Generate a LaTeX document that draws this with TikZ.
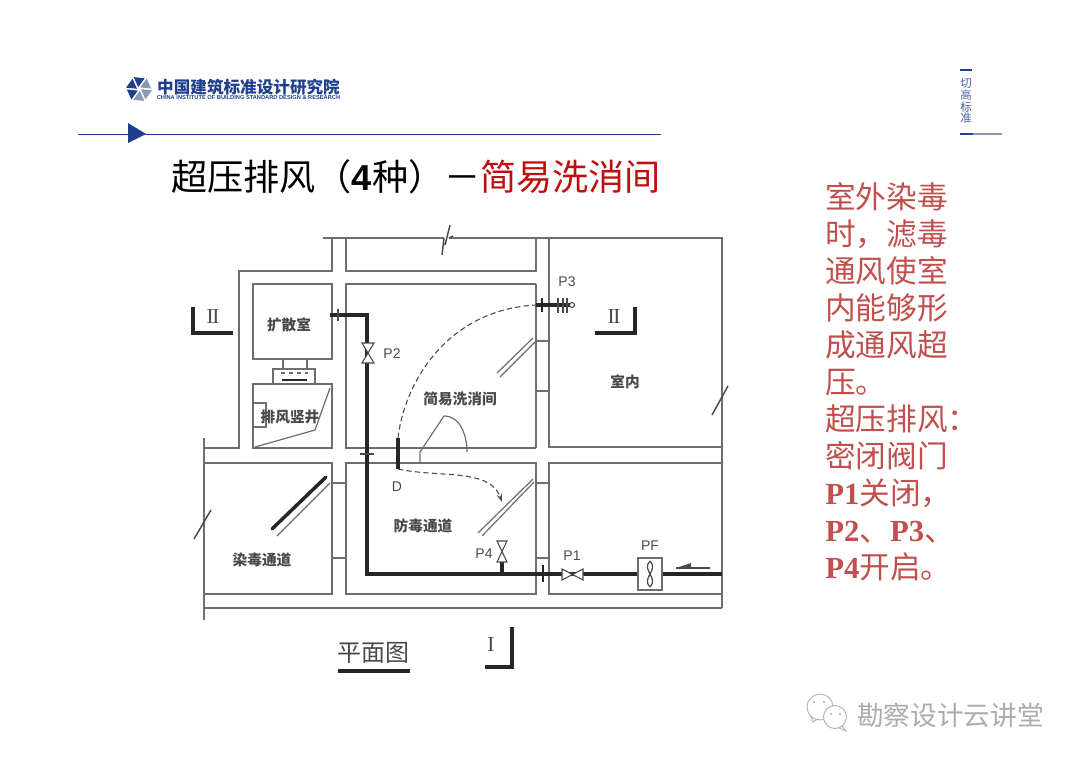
\documentclass[tikz,border=0pt]{standalone}
\usepackage{fontspec}
\setmainfont{Liberation Sans}
\newfontfamily\cjk{Noto Sans CJK SC}
\newfontfamily\tms{Liberation Serif}
\usetikzlibrary{arrows.meta,calc,positioning}
\definecolor{navy}{HTML}{1F3F8C}
\definecolor{logogray}{HTML}{8C97B4}
\definecolor{wallgray}{HTML}{6E6E6E}
\definecolor{inkgray}{HTML}{4A4A4A}
\definecolor{titlered}{HTML}{C00D0D}
\definecolor{notered}{HTML}{C0504D}
\tikzset{
	wall/.style={draw=wallgray, line width=0.9pt},
	pipe/.style={draw=black!85, line width=2.3pt},
	thickbar/.style={draw=black!85, line width=2.6pt},
	flow/.style={draw=inkgray, line width=0.8pt, dashed, dash pattern=on 4pt off 2.4pt},
	valve/.style={draw=inkgray, line width=0.8pt, fill=white},
	plan/.style={inner sep=0pt, text=inkgray, font=\cjk\bfseries\fontsize{11}{11}\selectfont},
	tag/.style={inner sep=0pt, text=inkgray, font=\fontsize{10.5}{10.5}\selectfont},
	secmark/.style={inner sep=0pt, text=inkgray, font=\tms\fontsize{16}{16}\selectfont}
}
\begin{document}
\begin{tikzpicture}[x=0.75pt, y=-0.75pt]
	\useasboundingbox (0,0) rectangle (1080,763);
	\fill[white] (0,0) rectangle (1080,763);

	% header
	\foreach \a/\c in {90/logogray,150/navy,210/navy,270/navy,330/logogray,30/logogray}
		\fill[\c] (139,89) ++(\a-24:2) -- ++(\a-24:11) -- ++(\a+96:11) -- cycle;
	\node[inner sep=0pt, text=navy, font=\cjk\bfseries\fontsize{12.45}{12.45}\selectfont] (logotext) at (248.5,87) {中国建筑标准设计研究院};
	\node[inner sep=0pt, text=navy, font=\bfseries\fontsize{4.27}{4.4}\selectfont] (logoen) at (248.5,98) {CHINA INSTITUTE OF BUILDING STANDARD DESIGN \& RESEARCH};
	\draw[navy, line width=0.7pt] (78,134) -- (661,134);
	\fill[navy] (128,123) -- (146,134) -- (128,143) -- cycle;
	\draw[navy, line width=0.8pt] (960,70) -- (972,70);
	\node[inner sep=0pt, text=navy!80, align=center, font=\cjk\fontsize{8.6}{8.9}\selectfont] (motto) at (966,101) {切\\高\\标\\准};
	\draw[logogray, line width=0.8pt] (960,134) -- (1002,134);
	\draw[navy, line width=1.7pt] (960,134) -- (973,134);

	% title
	\node[anchor=west, inner sep=0pt, font=\cjk\fontsize{27.1}{27.1}\selectfont] (title) at (171,177) {超压排风（{\fontspec{Liberation Sans}\bfseries 4}种）－\textcolor{titlered}{简易洗消间}};

	% side note
	\node[anchor=north west, inner sep=0pt, text=notered, align=left, font=\cjk\fontsize{23}{27.75}\selectfont] (note) at (825,182) {室外染毒\\时，滤毒\\通风使室\\内能够形\\成通风超\\压。\\超压排风：\\密闭阀门\\{\tms\bfseries P1}关闭，\\{\tms\bfseries P2}、{\tms\bfseries P3}、\\{\tms\bfseries P4}开启。};

	% walls
	\draw[wall] (323,238) -- (444,238) (449,238) -- (722,238) -- (722,608);
	\draw[wall] (332,238) -- (332,271) -- (239,271) -- (239,448) -- (204,448);
	\draw[wall] (204,438) -- (204,620);
	\draw[wall] (346,238) -- (346,271) -- (536,271) -- (536,238);
	\draw[wall] (549,238) -- (549,447) -- (722,447);
	\draw[wall] (536,284) -- (346,284) -- (346,448) -- (536,448);
	\draw[wall] (204,463) -- (332,463) -- (332,594) -- (204,594);
	\draw[wall] (204,608) -- (722,608);
	\draw[wall] (346,463) rectangle (536,594);
	\draw[wall] (549,463) rectangle (722,594);
	\foreach \y in {341,391,483,558}
		\draw[wall] (536,\y) -- (549,\y);
	\draw[wall] (536,284) -- (536,448);
	\foreach \y in {483,558}
		\draw[wall] (332,\y) -- (346,\y);

	% wall breaks
	\draw[inkgray, line width=1.1pt] (450,225) -- (445,245) (444,238) -- (442,255) (449,238) -- (453,236);
	\draw[inkgray, line width=1.1pt] (712,415) -- (728,386);
	\draw[inkgray, line width=1.1pt] (194,539) -- (211,510);

	% rooms at the left
	\draw[wall] (253,284) rectangle (332,359);
	\draw[wall] (253,384) rectangle (332,448);
	\draw[wall] (283,359) -- (283,369) (307,359) -- (307,369);
	\draw[wall] (273,369) rectangle (315,384);
	\draw[wall, dashed] (281,373) -- (308,373);
	\draw[thickbar, line width=2pt] (282,380) -- (307,380);
	\draw[wall] (253,403) -- (266,403) -- (266,427) -- (253,427);
	\draw[wall] (330,388) -- (315,430) -- (255,447);

	% doors
	\draw[wall] (533,338) -- (497,373) (535,342) -- (500,377);
	\draw[thickbar, line cap=round] (272,529) -- (326,477);
	\draw[wall] (277,536) -- (330,483);
	\draw[wall] (478,533) -- (533,479) (482,536) -- (534,482);
	\draw[wall] (420,463) -- (420,452) -- (444,416) to[out=0, in=95] (467,448) -- (467,452);

	% pipe
	\coordinate (pipeA) at (330,315);
	\coordinate (pipeB) at (367,315);
	\coordinate (pipeC) at (367,574);
	\coordinate (pipeD) at (722,574);
	\draw[pipe, line join=miter] (pipeA) -- (pipeB) -- (pipeC) -- (pipeD);
	\draw[pipe] (502,574) -- (502,562);
	\draw[pipe] (398,438) -- (398,469);
	\draw[pipe] (536,305) -- (570,305);
	\draw[valve, fill=white] (572,305) circle (2.5);
	\draw[inkgray, line width=1pt] (338,309) -- (338,321) (360,454) -- (374,454);
	\draw[black!85, line width=1.4pt] (542,298) -- (542,312) (543,565) -- (543,582);
	\foreach \x in {558,563,567}
		\draw[inkgray, line width=0.8pt] (\x,298) -- (\x,313);

	% valves
	\draw[valve] (362,343) -- (374,343) -- (362,363) -- (374,363) -- cycle;
	\draw[valve] (497,541) -- (507,541) -- (497,562) -- (507,562) -- cycle;
	\draw[valve] (562,569) -- (562,580) -- (583,569) -- (583,580) -- cycle;

	% fan
	\draw[wall, fill=white] (638,558) rectangle (662,590);
	\draw[inkgray, line width=0.9pt] (650,561) .. controls (641,570) and (659,578) .. (650,587);
	\draw[inkgray, line width=0.9pt] (650,561) .. controls (659,570) and (641,578) .. (650,587);
	\draw[inkgray, line width=1.1pt] (710,568) -- (676,568);
	\fill[inkgray] (676,568) -- (691,563) -- (691,568) -- cycle;

	% door swings
	\draw[flow] (398,438) .. controls (404,385) and (445,310) .. (536,305);
	\draw[flow, -{Stealth[length=6pt, width=4pt]}] (398,469) .. controls (440,478) and (490,468) .. (502,502);

	% section marks
	\draw[thickbar] (193,307) -- (193,333) -- (233,333);
	\draw[thickbar] (595,333) -- (635,333) -- (635,307);
	\draw[thickbar] (485,667) -- (512,667) -- (512,627);
	\draw[thickbar] (338,671) -- (410,671);
	\node[secmark] (secLeft) at (213,317) {I\kern-1pt I};
	\node[secmark] (secRight) at (614,317) {I\kern-1pt I};
	\node[secmark] (secBottom) at (491,645) {I};

	% room labels
	\node[plan] (kuosan) at (289,325) {扩散室};
	\node[plan] (shaft) at (290,417) {排风竖井};
	\node[plan] (wash) at (460,399) {简易洗消间};
	\node[plan] (indoor) at (625,382) {室内};
	\node[plan] (guard) at (423,526) {防毒通道};
	\node[plan] (dirty) at (262,560) {染毒通道};
	\node[plan, font=\cjk\fontsize{18}{18}\selectfont] (planname) at (373,653) {平面图};

	% valve labels
	\node[tag] (tagP1) at (572,556) {P1};
	\node[tag] (tagP2) at (392,354) {P2};
	\node[tag] (tagP3) at (567,282) {P3};
	\node[tag] (tagP4) at (484,554) {P4};
	\node[tag] (tagPF) at (650,546) {PF};
	\node[tag] (tagD) at (397,487) {D};

	% watermark
	\draw[gray!60, line width=0.7pt, fill=white] (820,707) circle (13);
	\draw[gray!60, line width=0.7pt] (811,717) -- (813,722) -- (818,719);
	\draw[gray!60, line width=0.7pt, fill=white] (835,717) circle (11.5);
	\draw[gray!60, line width=0.7pt] (842,726) -- (846,731) -- (839,728);
	\fill[gray!60] (814,702) circle (1.2) (824,702) circle (1.2) (831,714) circle (1.2) (840,714) circle (1.2);
	\node[anchor=west, inner sep=0pt, text=gray!65, font=\cjk\fontsize{20}{20}\selectfont] (mark) at (857,715) {勘察设计云讲堂};
\end{tikzpicture}
\end{document}
